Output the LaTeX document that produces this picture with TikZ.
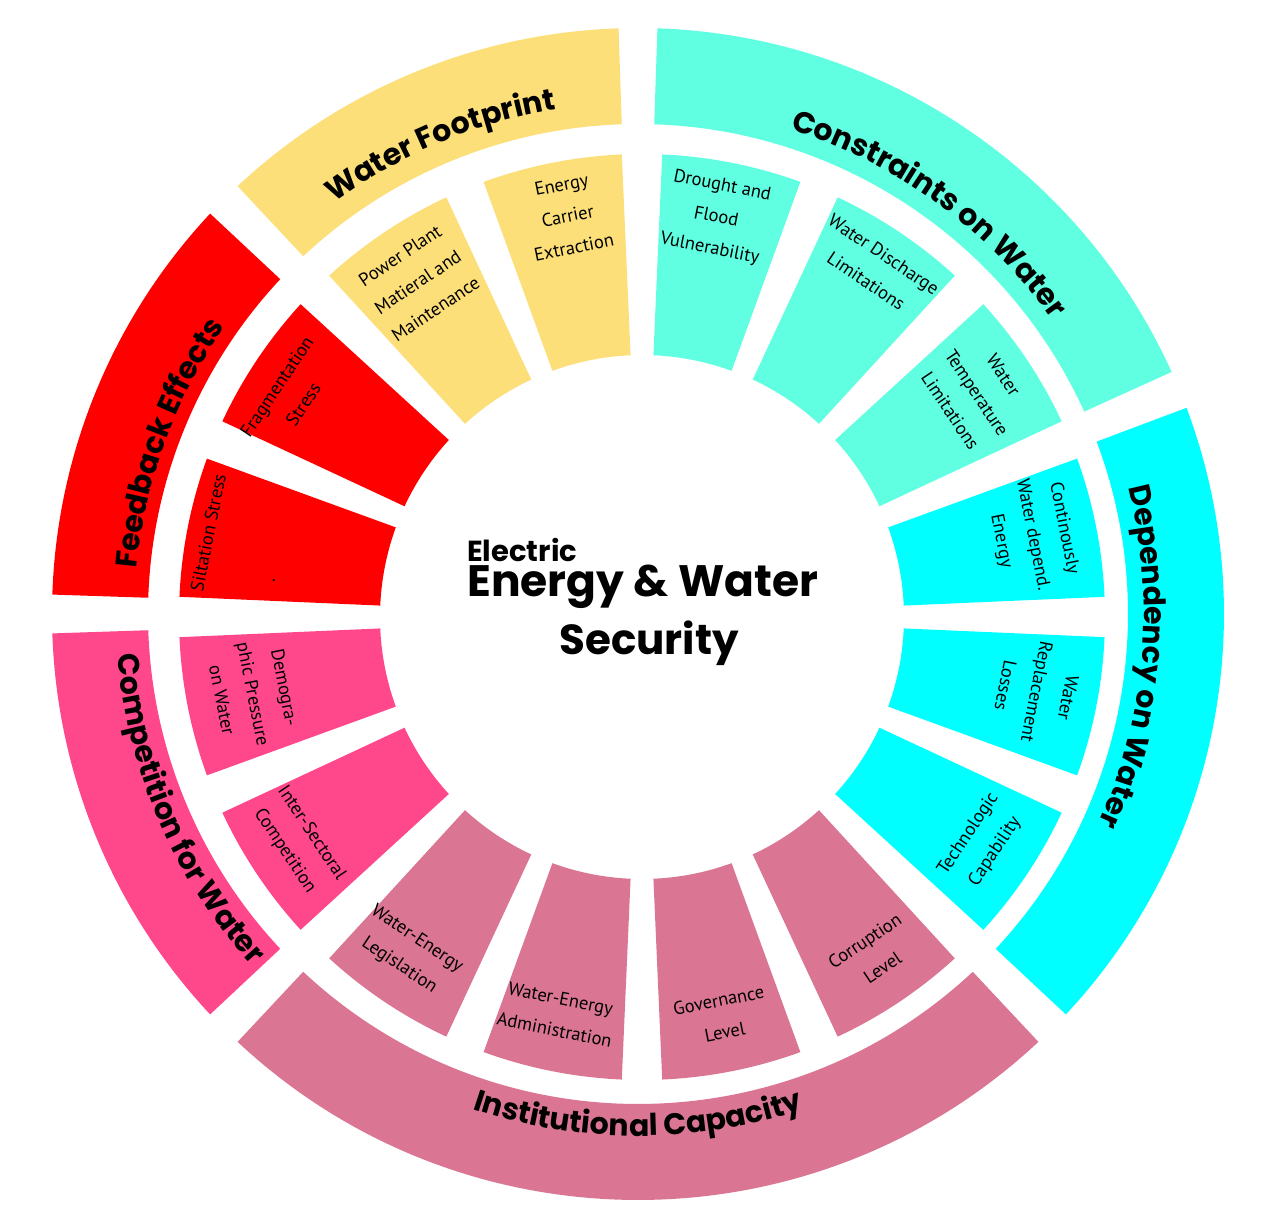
\documentclass[tikz,border=0pt]{standalone}
\usepackage{fontspec}
\newfontfamily\headfont{Poppins}
\newfontfamily\labelfont{PT Sans}
\usetikzlibrary{decorations.text}
\definecolor{wfyellow}{RGB}{252,223,120}
\definecolor{fbred}{RGB}{255,0,0}
\definecolor{cwpink}{RGB}{255,72,140}
\definecolor{icrose}{RGB}{219,117,148}
\definecolor{dwcyan}{RGB}{0,255,255}
\definecolor{cwaqua}{RGB}{96,255,226}
\newcommand{\titlefont}{\headfont\bfseries\fontsize{30}{30}\selectfont}
\tikzset{
  lbl/.style={align=center, inner sep=0pt, font=\labelfont\fontsize{18.5}{32}\selectfont},
  ringtitle/.style={decorate, decoration={text along path, text align=center, text={|\titlefont|#1}}},
  hub/.style={inner sep=0pt, font=\headfont\bfseries\fontsize{#1}{#1}\selectfont}
}
\begin{document}
\begin{tikzpicture}[x=1pt,y=1pt]
\useasboundingbox (-638,-614) rectangle (631,614);
\fill [white] (-638,-614) rectangle (631,614);
% outer ring
\fill [wfyellow] (91.9:490) arc [start angle=91.9, end angle=133.1, radius=490pt] -- (133.1:586) arc [start angle=133.1, end angle=91.9, radius=586pt] -- cycle;
\fill [fbred] (136.9:490) arc [start angle=136.9, end angle=178.1, radius=490pt] -- (178.1:586) arc [start angle=178.1, end angle=136.9, radius=586pt] -- cycle;
\fill [cwpink] (181.9:490) arc [start angle=181.9, end angle=223.1, radius=490pt] -- (223.1:586) arc [start angle=223.1, end angle=181.9, radius=586pt] -- cycle;
\fill [icrose] (226.9:490) arc [start angle=226.9, end angle=313.1, radius=490pt] -- (313.1:586) arc [start angle=313.1, end angle=226.9, radius=586pt] -- cycle;
\fill [dwcyan] (-43.1:490) arc [start angle=-43.1, end angle=20.6, radius=490pt] -- (20.6:586) arc [start angle=20.6, end angle=-43.1, radius=586pt] -- cycle;
\fill [cwaqua] (24.4:490) arc [start angle=24.4, end angle=88.1, radius=490pt] -- (88.1:586) arc [start angle=88.1, end angle=24.4, radius=586pt] -- cycle;
% ring titles
\path [ringtitle=Water Footprint] (152.8:511) arc [start angle=152.8, end angle=72.8, radius=511pt];
\path [ringtitle=Constraints on Water] (94:508) arc [start angle=94, end angle=14, radius=508pt];
\path [ringtitle=Dependency on Water] (35:506) arc [start angle=35, end angle=-45, radius=506pt];
\path [ringtitle=Feedback Effects] (200:503) arc [start angle=200, end angle=120, radius=503pt];
\path [ringtitle=Institutional Capacity] (230:522) arc [start angle=230, end angle=310, radius=522pt];
\path [ringtitle=Competition for Water] (163.4:522) arc [start angle=163.4, end angle=243.4, radius=522pt];
% inner ring
\begin{scope}[shift={(4,-3)}]
\fill [dwcyan] (2.5:262) arc [start angle=2.5, end angle=20, radius=262pt] -- (20:463) arc [start angle=20, end angle=2.5, radius=463pt] -- cycle;
\fill [cwaqua] (25:262) arc [start angle=25, end angle=42.5, radius=262pt] -- (42.5:463) arc [start angle=42.5, end angle=25, radius=463pt] -- cycle;
\fill [cwaqua] (47.5:262) arc [start angle=47.5, end angle=65, radius=262pt] -- (65:463) arc [start angle=65, end angle=47.5, radius=463pt] -- cycle;
\fill [cwaqua] (70:262) arc [start angle=70, end angle=87.5, radius=262pt] -- (87.5:463) arc [start angle=87.5, end angle=70, radius=463pt] -- cycle;
\fill [wfyellow] (92.5:262) arc [start angle=92.5, end angle=110, radius=262pt] -- (110:463) arc [start angle=110, end angle=92.5, radius=463pt] -- cycle;
\fill [wfyellow] (115:262) arc [start angle=115, end angle=132.5, radius=262pt] -- (132.5:463) arc [start angle=132.5, end angle=115, radius=463pt] -- cycle;
\fill [fbred] (137.5:262) arc [start angle=137.5, end angle=155, radius=262pt] -- (155:463) arc [start angle=155, end angle=137.5, radius=463pt] -- cycle;
\fill [fbred] (160:262) arc [start angle=160, end angle=177.5, radius=262pt] -- (177.5:463) arc [start angle=177.5, end angle=160, radius=463pt] -- cycle;
\fill [cwpink] (182.5:262) arc [start angle=182.5, end angle=200, radius=262pt] -- (200:463) arc [start angle=200, end angle=182.5, radius=463pt] -- cycle;
\fill [cwpink] (205:262) arc [start angle=205, end angle=222.5, radius=262pt] -- (222.5:463) arc [start angle=222.5, end angle=205, radius=463pt] -- cycle;
\fill [icrose] (227.5:262) arc [start angle=227.5, end angle=245, radius=262pt] -- (245:463) arc [start angle=245, end angle=227.5, radius=463pt] -- cycle;
\fill [icrose] (250:262) arc [start angle=250, end angle=267.5, radius=262pt] -- (267.5:463) arc [start angle=267.5, end angle=250, radius=463pt] -- cycle;
\fill [icrose] (272.5:262) arc [start angle=272.5, end angle=290, radius=262pt] -- (290:463) arc [start angle=290, end angle=272.5, radius=463pt] -- cycle;
\fill [icrose] (295:262) arc [start angle=295, end angle=312.5, radius=262pt] -- (312.5:463) arc [start angle=312.5, end angle=295, radius=463pt] -- cycle;
\fill [dwcyan] (317.5:262) arc [start angle=317.5, end angle=335, radius=262pt] -- (335:463) arc [start angle=335, end angle=317.5, radius=463pt] -- cycle;
\fill [dwcyan] (340:262) arc [start angle=340, end angle=357.5, radius=262pt] -- (357.5:463) arc [start angle=357.5, end angle=340, radius=463pt] -- cycle;
% segment labels
\node [lbl, rotate=-78.75] (continously) at (11.9:399) {Continously\\Water depend.\\Energy};
\node [lbl, rotate=-56.25] (temperature) at (33.8:403) {Water\\Temperature\\Limitations};
\node [lbl, rotate=-33.75] (discharge) at (56.3:420) {Water Discharge\\Limitations};
\node [lbl, rotate=-11.25] (drought) at (79.5:406) {Drought and\\Flood\\Vulnerability};
\node [lbl, rotate=11.25] (carrier) at (100.5:408) {Energy\\Carrier\\Extraction};
\node [lbl, rotate=33.75] (powerplant) at (123.8:403) {Power Plant\\Matieral and\\Maintenance};
\node [lbl, rotate=56.25] (fragmentation) at (147.8:416) {Fragmentation\\Stress};
\node [lbl, rotate=78.75] (siltation) at (169:442) {Siltation Stress};
\node [lbl] (dot) at (174.3:370) {.};
\node [lbl, rotate=-78.75] (demographic) at (191.2:396) {Demogra-\\phic Pressure\\on Water};
\node [lbl, rotate=-56.25] (intersectoral) at (213.2:411) {Inter-Sectoral\\Competition};
\node [lbl, rotate=-33.75] (legislation) at (235.1:409) {Water-Energy\\Legislation};
\node [lbl, rotate=-11.25] (administration) at (258:406) {Water-Energy\\Administration};
\node [lbl, rotate=11.25] (governance) at (281.3:407) {Governance\\Level};
\node [lbl, rotate=33.75] (corruption) at (304.5:409) {Corruption\\Level};
\node [lbl, rotate=56.25] (technologic) at (326.4:408) {Technologic\\Capability};
\node [lbl, rotate=-101.25] (replacement) at (349.3:402) {Water\\Replacement\\Losses};
\end{scope}
% hub text
\node [hub=29, anchor=base west] (electric) at (-171,52) {Electric};
\node [hub=44, anchor=base west] (energy) at (-171,17) {Energy \& Water};
\node [hub=42, anchor=base] (security) at (11,-41) {Security};
\end{tikzpicture}
\end{document}
